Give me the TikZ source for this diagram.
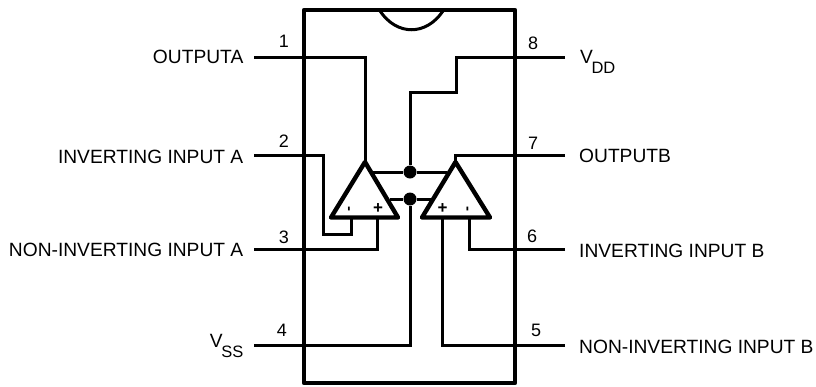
\documentclass[tikz,border=0pt]{standalone}
\usepackage{fontspec}
\setmainfont{Liberation Sans}
\newcommand{\lowsub}[1]{\kern-1.5pt\raisebox{-10pt}{\fontsize{16.5}{16.5}\selectfont #1}}
\tikzset{
  pack/.style={line width=4.4pt,line join=round},
  wire/.style={line width=3pt,line join=miter},
  amp/.style={line width=4.4pt,line join=round},
  pinnum/.style={font=\fontsize{18}{18}\selectfont,inner sep=0pt},
  pinname/.style={font=\fontsize{19.2}{19}\selectfont,inner sep=0pt},
  dot/.style={circle,fill=black,inner sep=0pt,minimum size=13pt},
  plus/.style={font=\bfseries\fontsize{17}{17}\selectfont,inner sep=0pt},
  minus/.style={font=\bfseries\fontsize{15}{15}\selectfont,inner sep=0pt,rotate=90}
}
\begin{document}
\begin{tikzpicture}[x=1pt,y=-1pt]
\useasboundingbox (0,0) rectangle (816,386);
% package
\coordinate (tl) at (304,10);
\coordinate (tr) at (515,10);
\coordinate (bl) at (304,383);
\coordinate (br) at (515,383);
\draw[pack] (tl) -- (tr) -- (br) -- (bl) -- cycle;
\draw[wire] (380,11) .. controls (397,36) and (426,36) .. (443,11);
% pin ends
\coordinate (p1) at (254,57.5);
\coordinate (p2) at (254,155);
\coordinate (p3) at (254,249);
\coordinate (p4) at (254,345.5);
\coordinate (p5) at (565,345.5);
\coordinate (p6) at (565,249);
\coordinate (p7) at (565,155);
\coordinate (p8) at (565,57.5);
% op amps
\coordinate (a) at (365,162);
\coordinate (al) at (331,217.5);
\coordinate (ar) at (398,217.5);
\coordinate (b) at (455.5,162);
\coordinate (bbl) at (422,217.5);
\coordinate (bbr) at (490,217.5);
\node [dot] (vdd) at (410,172) {};
\node [dot] (vss) at (410,199) {};
% wires
\draw[wire] (p1) -| (a);
\draw[wire] (p8) -- (456.5,57.5) -- (456.5,92) -- (410,92) -- (vdd);
\draw[wire] (p7) -- (b |- p7) -- (b);
\draw[wire] (p2) -- (323,155) -- (323,234) -- (351,234) -- (351,217.5);
\draw[wire] (p3) -- (377,249) -- (377,217.5);
\draw[wire] (p4) -- (410,345.5) -- (vss);
\draw[wire] (p5) -- (442.5,345.5) -- (442.5,217.5);
\draw[wire] (p6) -- (469,249) -- (469,217.5);
\draw[wire] (373,172) -- (vdd) -- (447,172);
\draw[wire] (390,199) -- (vss) -- (431,199);
\draw[amp] (a) -- (ar) -- (al) -- cycle;
\draw[amp] (b) -- (bbr) -- (bbl) -- cycle;
% signs
\node [plus] at (378,209) {+};
\node [plus] at (442.5,209) {+};
\node [minus] at (350.5,209) {-};
\node [minus] at (469,209) {-};
% pin numbers
\node [pinnum] at (284,41) {1};
\node [pinnum] at (284,141) {2};
\node [pinnum] at (284,237) {3};
\node [pinnum] at (282,330) {4};
\node [pinnum] at (536,330) {5};
\node [pinnum] at (532,236) {6};
\node [pinnum] at (533,143) {7};
\node [pinnum] at (533,43) {8};
% pin names
\node [pinname,anchor=base east] at (243.5,63.5) {OUTPUTA};
\node [pinname,anchor=base east] at (243.5,163) {INVERTING INPUT A};
\node [pinname,anchor=base east] at (243.5,256) {NON-INVERTING INPUT A};
\node [pinname,anchor=base east] at (243.5,347) {V\lowsub{SS}};
\node [pinname,anchor=base west] at (579,353) {NON-INVERTING INPUT B};
\node [pinname,anchor=base west] at (579,257) {INVERTING INPUT B};
\node [pinname,anchor=base west] at (579,162) {OUTPUTB};
\node [pinname,anchor=base west] at (580,63) {V\lowsub{DD}};
\end{tikzpicture}
\end{document}
